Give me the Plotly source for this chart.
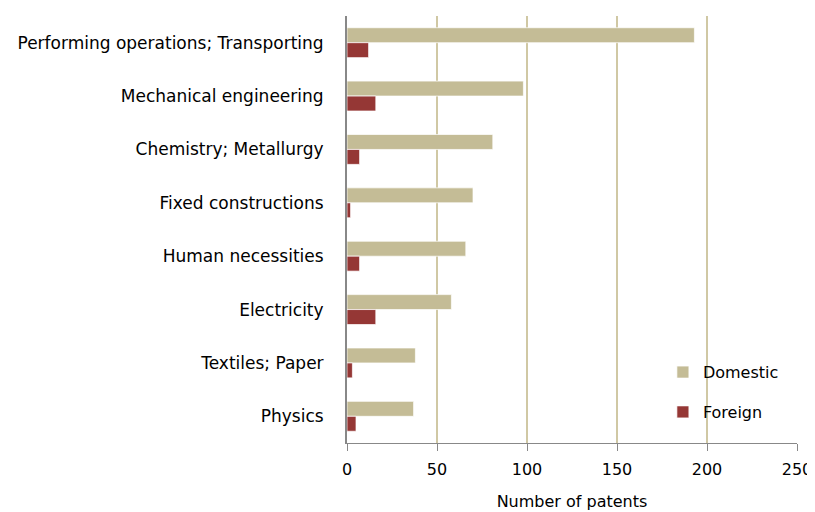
import plotly.graph_objects as go

categories = ["Performing operations; Transporting", "Mechanical engineering",
              "Chemistry; Metallurgy", "Fixed constructions", "Human necessities",
              "Electricity", "Textiles; Paper", "Physics"]
domestic = [193, 98, 81, 70, 66, 58, 38, 37]
foreign = [12, 16, 7, 2, 7, 16, 3, 5]
x_ticks = [0, 50, 100, 150, 200, 250]

font_family = "'DejaVu Sans', sans-serif"

fig = go.Figure()
fig.add_trace(go.Bar(y=categories, x=domestic, name="Domestic", orientation="h",
                     marker=dict(color="#c4bc96", line=dict(color="rgba(255,255,255,0.7)", width=1)),
                     legendgroup="d"))
fig.add_trace(go.Bar(y=categories, x=foreign, name="Foreign", orientation="h",
                     marker=dict(color="#953735", line=dict(color="rgba(255,255,255,0.7)", width=1)),
                     legendgroup="f"))

fig.update_layout(
    width=807, height=504,
    margin=dict(l=339, r=18, t=8, b=69, autoexpand=False),
    paper_bgcolor="white", plot_bgcolor="white",
    barmode="group", bargap=0.44, bargroupgap=0,
    font=dict(family=font_family, size=16, color="#000000"),
    legend=dict(x=0.702, y=0.119, xanchor="left", yanchor="middle",
                bgcolor="rgba(0,0,0,0)", tracegroupgap=16, itemwidth=30,
                font=dict(size=16)),
    xaxis=dict(range=[0, 250], tickvals=x_ticks, showgrid=True,
               gridcolor="#d0c8a4", gridwidth=2,
               showline=True, linecolor="#888888", linewidth=1,
               ticks="outside", ticklen=7, tickcolor="#888888",
               zeroline=False, ticklabelstandoff=5, automargin=False,
               title=dict(text="Number of patents", standoff=17,
                          font=dict(size=16))),
    yaxis=dict(autorange="reversed", categoryorder="array", categoryarray=categories,
               showline=True, linecolor="#888888", linewidth=2, automargin=False,
               showgrid=False, ticks="", ticklabelstandoff=18, tickfont=dict(size=17)),
)

fig.write_html("out.html")
